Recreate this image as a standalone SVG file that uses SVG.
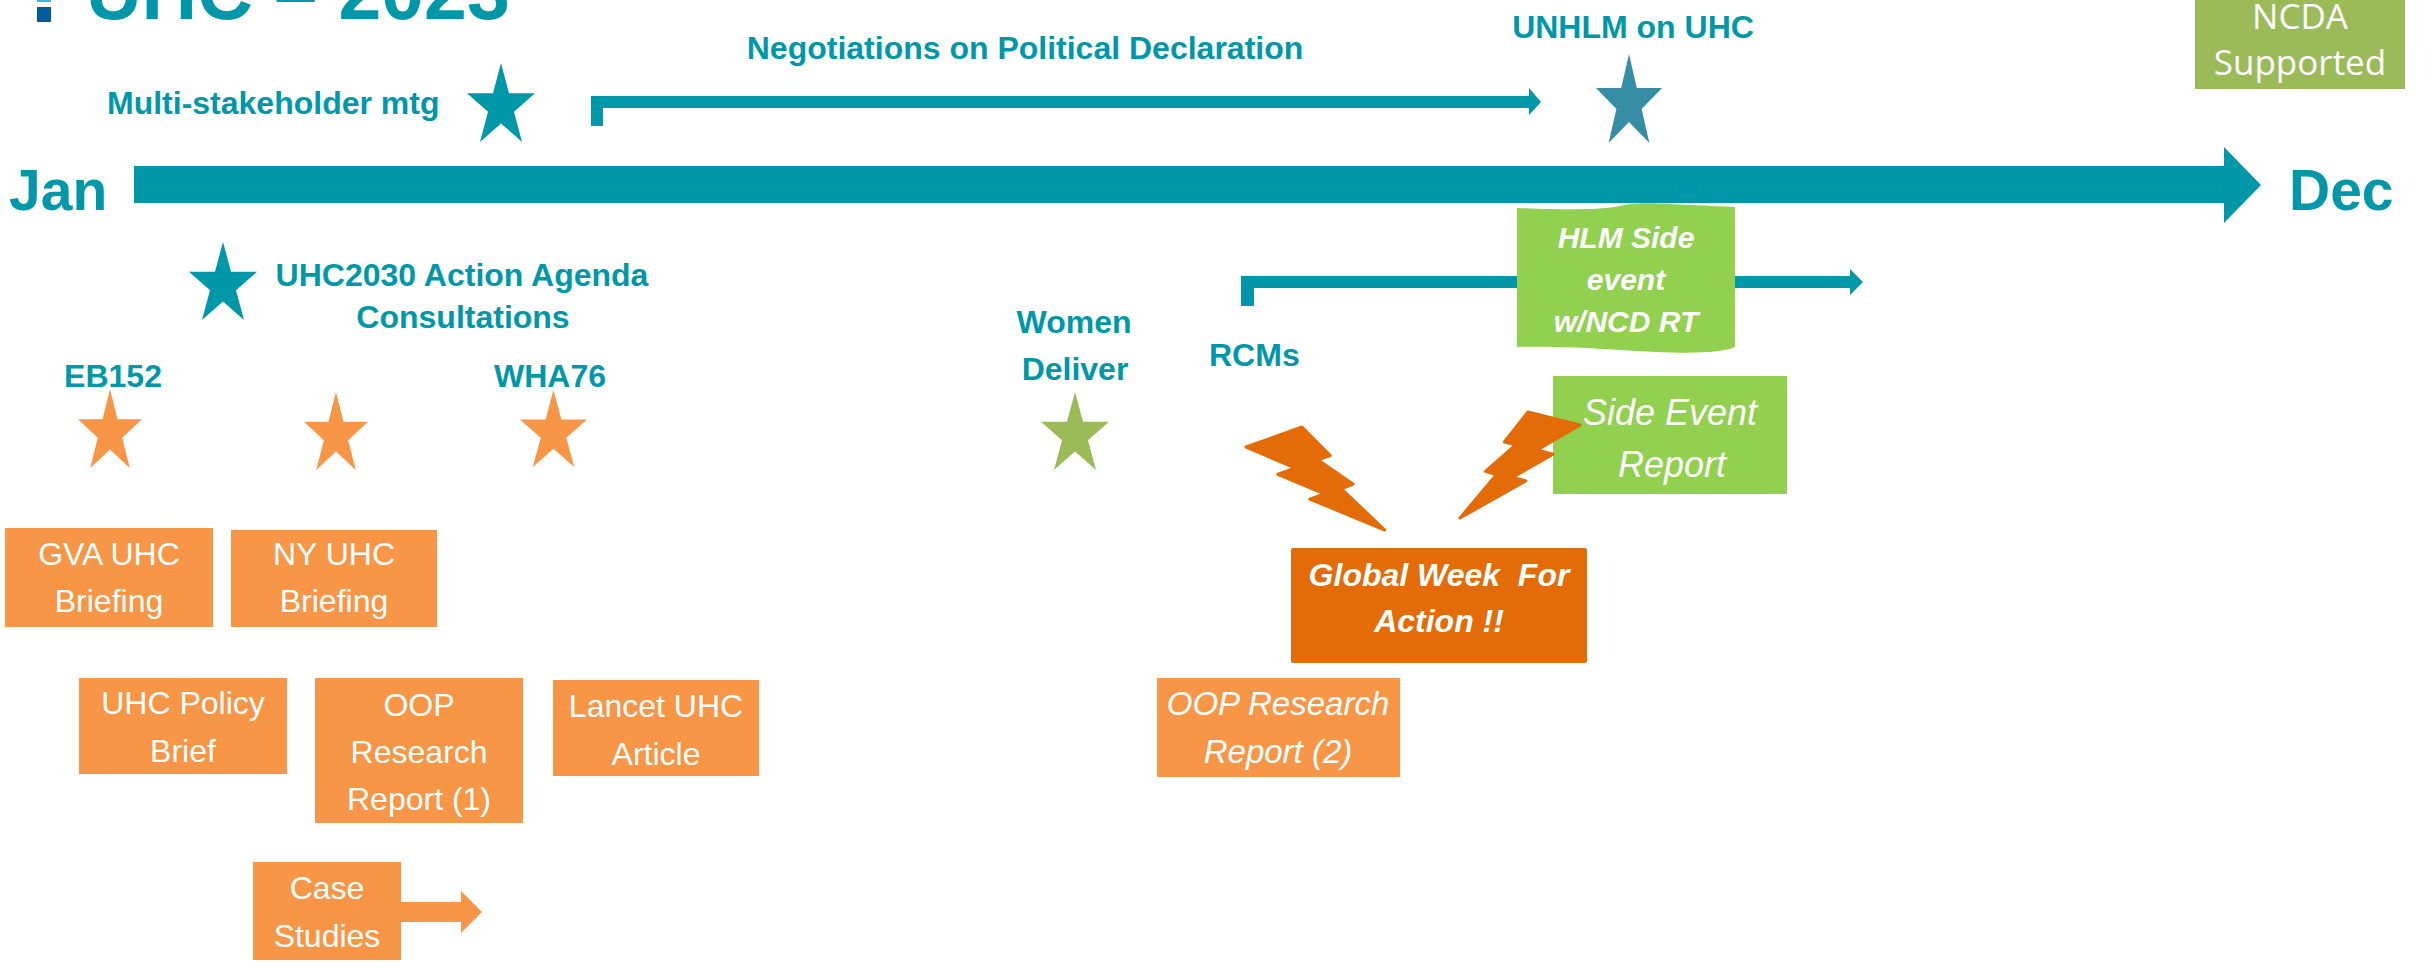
<svg xmlns="http://www.w3.org/2000/svg" width="2433" height="980" viewBox="0 0 2433 980">
  <style>
    .lbl { font-family: "Liberation Sans", Arial, sans-serif; font-weight: bold; fill: #0097A9; font-size: 32px; }
    .mid { text-anchor: middle; }
    .month { font-size: 57px; }
    .box { font-family: "Liberation Sans", Arial, sans-serif; fill: #ffffff; font-size: 32px; text-anchor: middle; }
    .it { font-style: italic; }
    .bi { font-style: italic; font-weight: bold; }
    .or { fill: #F79646; }
    .dk { fill: #E36C09; }
    .gr { fill: #92D050; }
    .ol { fill: #9BBB59; }
    .teal { fill: #0097A9; }
  </style>
  <defs>
    <!-- unit five-point star, outer radius 1 -->
    <path id="star" d="M0,-1 L0.2245,-0.309 L0.9511,-0.309 L0.3633,0.118 L0.5878,0.809 L0,0.382 L-0.5878,0.809 L-0.3633,0.118 L-0.9511,-0.309 L-0.2245,-0.309 Z"/>
    <!-- unit lightning bolt in a 1x1 box -->
    <path id="bolt" vector-effect="non-scaling-stroke" d="M0.392,0 L0,0.182 L0.350,0.390 L0.231,0.450 L0.565,0.644 L0.462,0.691 L1,1 L0.684,0.598 L0.767,0.556 L0.511,0.317 L0.598,0.279 Z"/>
  </defs>
  <rect width="2433" height="980" fill="#ffffff"/>

  <!-- title -->
  <g id="title">
    <rect x="37" y="-13" width="14" height="15" fill="#41B6E6"/>
    <rect x="37" y="7" width="14" height="15" fill="#005B9A"/>
    <text class="lbl" x="86" y="19" style="font-size:77px">UHC – 2023</text>
  </g>

  <!-- arrows and timeline -->
  <g id="connectors">
    <path id="timeline" class="teal" d="M134,166 L2224,166 L2224,147 L2261,185 L2224,223 L2224,203 L134,203 Z"/>
    <path id="negotiations-span" class="teal" d="M591,126 L591,96 L1529,96 L1529,88 L1541,102 L1529,115 L1529,108 L603,108 L603,126 Z"/>
    <path id="rcms-span" class="teal" d="M1241,306 L1241,276 L1850,276 L1850,269 L1863,282 L1850,295 L1850,288 L1254,288 L1254,306 Z"/>
    <path id="case-arrow" class="or" d="M401,902 L461,902 L461,891 L482,912 L461,933 L461,922 L401,922 Z"/>
  </g>

  <!-- month labels -->
  <g id="jan"><text class="lbl month" x="9" y="210">Jan</text></g>
  <g id="dec"><text class="lbl month" x="2289" y="210">Dec</text></g>

  <!-- milestones above the line -->
  <g id="multi-stakeholder">
    <text class="lbl" x="107" y="114">Multi-stakeholder mtg</text>
    <use href="#star" fill="#0097A9" transform="translate(501,106.7) scale(35.75,43.67)"/>
  </g>
  <g id="negotiations">
    <text class="lbl mid" x="1025" y="59">Negotiations on Political Declaration</text>
  </g>
  <g id="unhlm">
    <text class="lbl mid" x="1633" y="38">UNHLM on UHC</text>
    <use href="#star" fill="#368EA6" transform="translate(1629,103.2) scale(34.7,49.2)"/>
  </g>
  <g id="ncda">
    <rect class="ol" x="2195" y="-10" width="210" height="99"/>
    <text x="2300" y="29" text-anchor="middle" fill="#ffffff" font-family="'Open Sans', sans-serif" font-size="35">NCDA</text>
    <text x="2300" y="75" text-anchor="middle" fill="#ffffff" font-family="'Open Sans', sans-serif" font-size="35">Supported</text>
  </g>

  <!-- milestones below the line -->
  <g id="uhc2030">
    <use href="#star" fill="#0097A9" transform="translate(223,285.1) scale(35.75,43.1)"/>
    <text class="lbl mid" x="462" y="286">UHC2030 Action Agenda</text>
    <text class="lbl mid" x="463" y="328">Consultations</text>
  </g>
  <g id="eb152">
    <text class="lbl mid" x="113" y="387">EB152</text>
    <use href="#star" class="or" transform="translate(110,432.7) scale(33.6,43.7)"/>
  </g>
  <g id="mid-star">
    <use href="#star" class="or" transform="translate(336,435.1) scale(33.6,43.1)"/>
  </g>
  <g id="wha76">
    <text class="lbl mid" x="550" y="387">WHA76</text>
    <use href="#star" class="or" transform="translate(553.5,432.6) scale(35.2,42.6)"/>
  </g>
  <g id="women-deliver">
    <text class="lbl mid" x="1074" y="333">Women</text>
    <text class="lbl mid" x="1075" y="380">Deliver</text>
    <use href="#star" class="ol" transform="translate(1075,435.1) scale(35.75,43.1)"/>
  </g>
  <g id="rcms">
    <text class="lbl" x="1209" y="366">RCMs</text>
  </g>

  <!-- outputs -->
  <g id="gva-briefing">
    <rect class="or" x="5" y="528" width="208" height="99"/>
    <text class="box" x="109" y="565">GVA UHC</text>
    <text class="box" x="109" y="612">Briefing</text>
  </g>
  <g id="ny-briefing">
    <rect class="or" x="231" y="530" width="206" height="97"/>
    <text class="box" x="334" y="565">NY UHC</text>
    <text class="box" x="334" y="612">Briefing</text>
  </g>
  <g id="policy-brief">
    <rect class="or" x="79" y="678" width="208" height="96"/>
    <text class="box" x="183" y="714">UHC Policy</text>
    <text class="box" x="183" y="762">Brief</text>
  </g>
  <g id="oop-report-1">
    <rect class="or" x="315" y="678" width="208" height="145"/>
    <text class="box" x="419" y="716">OOP</text>
    <text class="box" x="419" y="763">Research</text>
    <text class="box" x="419" y="810">Report (1)</text>
  </g>
  <g id="lancet-article">
    <rect class="or" x="553" y="680" width="206" height="96"/>
    <text class="box" x="656" y="717">Lancet UHC</text>
    <text class="box" x="656" y="765">Article</text>
  </g>
  <g id="case-studies">
    <rect class="or" x="253" y="862" width="148" height="98"/>
    <text class="box" x="327" y="899">Case</text>
    <text class="box" x="327" y="947">Studies</text>
  </g>
  <g id="oop-report-2">
    <rect class="or" x="1157" y="678" width="243" height="99"/>
    <text class="box it" x="1278" y="715" style="font-size:33px">OOP Research</text>
    <text class="box it" x="1278" y="763" style="font-size:33px">Report (2)</text>
  </g>
  <g id="global-week">
    <rect class="dk" x="1291" y="548" width="296" height="115" rx="2"/>
    <text class="box bi" x="1439" y="586" style="white-space:pre">Global Week  For</text>
    <text class="box bi" x="1439" y="632">Action !!</text>
  </g>
  <g id="hlm-side-event">
    <path class="gr" d="M1517,208 C1570,210 1600,210 1620,206 C1640,201 1660,204 1735,207 L1735,347 C1720,354 1680,354 1620,350 C1580,347 1540,346 1517,347 Z"/>
    <text class="box bi" x="1626" y="248" style="font-size:30px">HLM Side</text>
    <text class="box bi" x="1626" y="290" style="font-size:30px">event</text>
    <text class="box bi" x="1626" y="332" style="font-size:30px">w/NCD RT</text>
  </g>
  <g id="side-event-report">
    <rect class="gr" x="1553" y="376" width="234" height="118"/>
    <text class="box it" x="1670" y="425" style="font-size:36px">Side Event</text>
    <text class="box it" x="1672" y="477" style="font-size:36px">Report</text>
  </g>

  <!-- lightning bolts pointing at the week of action -->
  <g id="bolts" fill="#E36C09" stroke="#E36C09" stroke-width="3" stroke-linejoin="round">
    <use href="#bolt" transform="matrix(141.4,-2.5,-3.2,104.5,1246.6,428)"/>
    <use href="#bolt" transform="matrix(-128.1,12.5,9.9,98.4,1578.2,407.1)"/>
  </g>
</svg>
